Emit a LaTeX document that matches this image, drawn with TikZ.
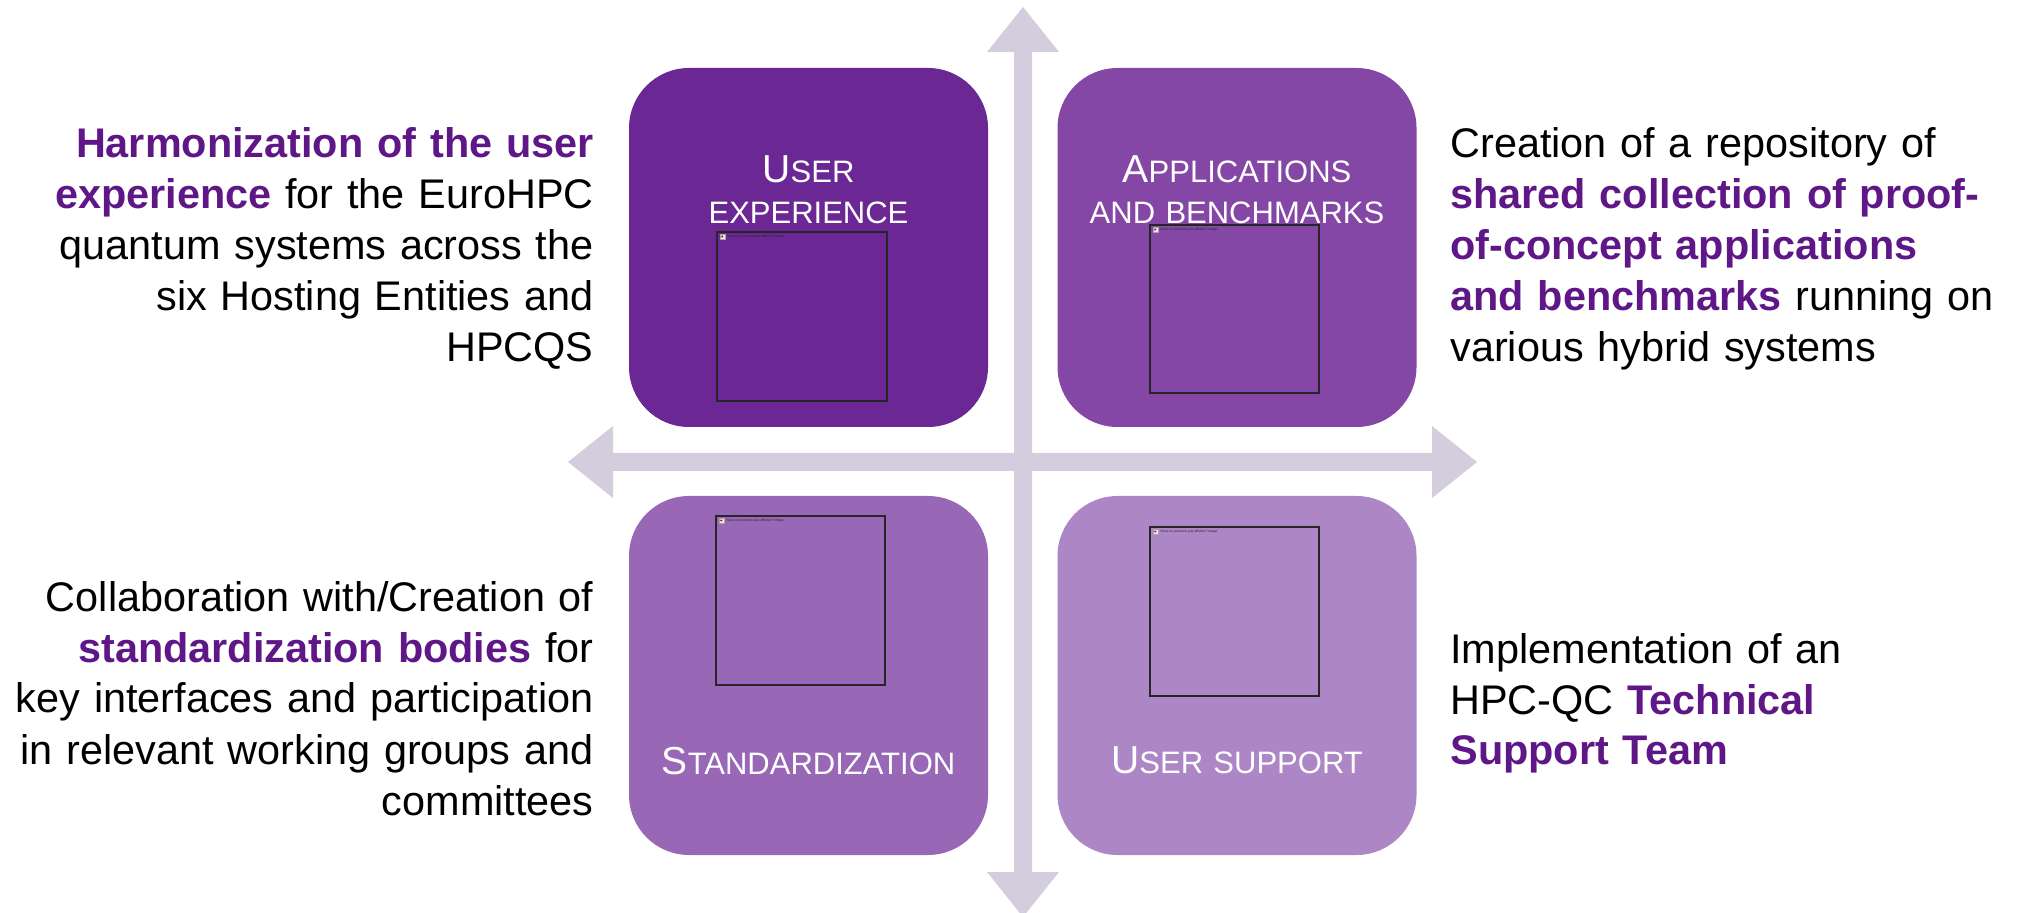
\documentclass[tikz,border=0pt]{standalone}
\usepackage{fontspec}
\setmainfont{Liberation Sans}
\setlength{\parindent}{0pt}

\definecolor{boxA}{HTML}{6B2894}
\definecolor{boxB}{HTML}{8547A5}
\definecolor{boxC}{HTML}{9868B6}
\definecolor{boxD}{HTML}{AD87C5}
\definecolor{axiscol}{HTML}{D3CDDE}
\definecolor{keyterm}{HTML}{5F1687}

% emphasised words in the side texts
\newcommand\keyword[1]{\textbf{\color{keyterm}#1}}
% large initial for the small-caps titles
\newcommand\initcap[1]{{\fontsize{19.5}{20.5}\selectfont #1}}

\tikzset{
  quad/.style={rectangle, rounded corners=30pt, inner sep=0pt,
    minimum width=179.5pt, minimum height=179.5pt},
  quadtitle/.style={text=white, inner sep=0pt, text width=175pt, align=center,
    anchor=base, font=\fontsize{15.5}{20.5}\selectfont},
  imgframe/.style={rectangle, draw=black!85, line width=0.7pt, inner sep=0pt,
    minimum width=84.5pt, minimum height=84.5pt},
  sidetext/.style={inner sep=0pt, text width=300pt,
    font=\fontsize{20.7}{25.5}\selectfont},
  brokenicon/.style={rectangle, draw=black!35, fill=white!92!black, line width=0.2pt,
    inner sep=0pt, minimum size=2.6pt, anchor=north west},
  brokentext/.style={inner sep=0pt, anchor=west, text=black!85,
    font=\fontsize{1.7}{2}\selectfont},
}

% frame of an image that could not be displayed: name, centre, width, height
\newcommand\missingimage[4]{%
  \node[imgframe, minimum width=#3*0.5pt, minimum height=#4*0.5pt] (#1) at #2 {};
  \node[brokenicon] (#1-icon) at ([xshift=1.6pt,yshift=-1.2pt]#1.north west) {};
  \fill[red!80!black] (#1-icon.center) circle (0.55pt);
  \node[brokentext] (#1-msg) at ([xshift=1.1pt]#1-icon.east)
    {Nous ne pouvons pas afficher l'image.};
}

\begin{document}
\begin{tikzpicture}[x=0.5pt, y=-0.5pt]
  \useasboundingbox (0,0) rectangle (2017,913);
  \clip (0,0) rectangle (2017,913);

  % the two axes, each a double-headed arrow
  \coordinate (hl) at (568,462);
  \coordinate (hr) at (1477,462);
  \coordinate (vt) at (1023,7);
  \coordinate (vb) at (1023,917);
  \fill[axiscol] (hl) -- ++(45,-36) -- ++(0,27) -- (1432,453) -- ++(0,-27)
    -- (hr) -- ++(-45,36) -- ++(0,-27) -- (613,471) -- ++(0,27) -- cycle;
  \fill[axiscol] (vt) -- ++(36,45) -- ++(-27,0) -- (1032,872) -- ++(27,0)
    -- (vb) -- ++(-36,-45) -- ++(27,0) -- (1014,52) -- ++(-27,0) -- cycle;

  % the four quadrants
  \node[quad, fill=boxA] (ux)   at (808.5,247.5) {};
  \node[quad, fill=boxB] (apps) at (1237,247.5) {};
  \node[quad, fill=boxC] (std)  at (808.5,675.5) {};
  \node[quad, fill=boxD] (sup)  at (1237,675.5) {};

  \node[quadtitle] (ux-title)   at (808.5,183) {\initcap{U}SER\\EXPERIENCE};
  \node[quadtitle] (apps-title) at (1237,183) {\initcap{A}PPLICATIONS\\AND BENCHMARKS};
  \node[quadtitle] (std-title)  at (808.5,774) {\initcap{S}TANDARDIZATION};
  \node[quadtitle] (sup-title)  at (1237,773) {\initcap{U}SER SUPPORT};

  \missingimage{ux-img}{(802,316.5)}{170}{169}
  \missingimage{apps-img}{(1234.5,309)}{169}{168}
  \missingimage{std-img}{(800.5,600.5)}{169}{169}
  \missingimage{sup-img}{(1234.5,611.5)}{169}{169}

  % descriptions beside the quadrants
  \node[sidetext, align=right, anchor=base east] (ux-text) at (594,158)
    {\keyword{Harmonization of the user}\\
     \keyword{experience} for the EuroHPC\\
     quantum systems across the\\
     six Hosting Entities and\\
     HPCQS};
  \node[sidetext, align=left, anchor=base west] (apps-text) at (1450,158)
    {Creation of a repository of\\
     \keyword{shared collection of proof-}\\
     \keyword{of-concept applications}\\
     \keyword{and benchmarks} running on\\
     various hybrid systems};
  \node[sidetext, align=right, anchor=base east] (std-text) at (594,611)
    {Collaboration with/Creation of\\
     \keyword{standardization bodies} for\\
     key interfaces and participation\\
     in relevant working groups and\\
     committees};
  \node[sidetext, align=left, anchor=base west] (sup-text) at (1450,663)
    {Implementation of an\\
     HPC-QC \keyword{Technical}\\
     \keyword{Support Team}};
\end{tikzpicture}
\end{document}
